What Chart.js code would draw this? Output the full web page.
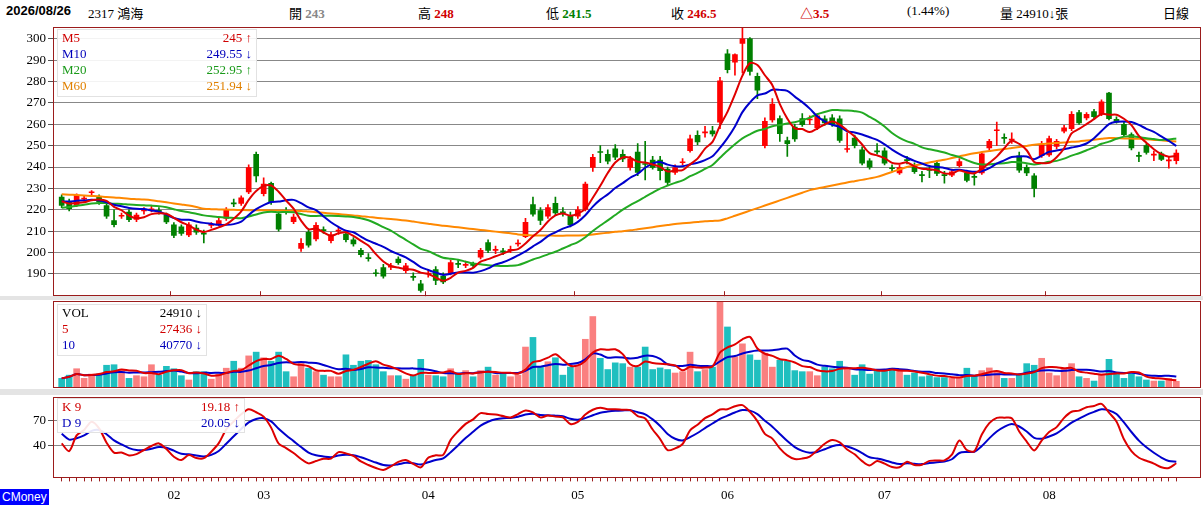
<!DOCTYPE html>
<html><head><meta charset="utf-8">
<script src="https://cdn.jsdelivr.net/npm/chart.js@4/dist/chart.umd.min.js"></script>
<style>
body{margin:0;background:#fff;width:1203px;height:510px;overflow:hidden;position:relative;font-family:"Liberation Serif","Noto Sans CJK TC",serif;font-size:13px}
.a{position:absolute;white-space:nowrap}
canvas{position:absolute;left:0}
.sep{position:absolute;left:0;width:1203px;background:#e4e4e4}
.lg{position:absolute;background:rgba(255,255,255,0.9);border:1px solid #e2e2e2;font-size:13px;line-height:16px;z-index:2}
.lg div{position:relative;height:16px}
.lg span.r{position:absolute;right:4px}
.lg span.l{position:absolute;left:4px}
</style></head><body>
<div class="a" style="left:6px;top:3px;font-family:'Liberation Sans';font-weight:bold">2026/08/26</div>
<div class="a" style="left:88px;top:3px">2317 鴻海</div>
<div class="a" style="left:289px;top:3px">開 <b style="color:#888">243</b></div>
<div class="a" style="left:418px;top:3px">高 <b style="color:#d00000">248</b></div>
<div class="a" style="left:546px;top:3px">低 <b style="color:#008000">241.5</b></div>
<div class="a" style="left:671px;top:3px">收 <b style="color:#d00000">246.5</b></div>
<div class="a" style="left:800px;top:3px;color:#d00000;font-weight:bold">△3.5</div>
<div class="a" style="left:907px;top:3px">(1.44%)</div>
<div class="a" style="left:1000px;top:3px">量 24910↓張</div>
<div class="a" style="left:1163px;top:3px">日線</div>
<div class="sep" style="top:296px;height:4px"></div>
<div class="sep" style="top:389px;height:6px"></div>
<canvas id="c1" width="1203" height="289" style="top:17px"></canvas>
<canvas id="c2" width="1203" height="90" style="top:299px"></canvas>
<canvas id="c3" width="1203" height="122" style="top:387px"></canvas>
<div class="lg" style="left:57px;top:29px;width:198px;height:66px">
<div style="color:#d00000"><span class="l">M5</span><span class="r">245 ↑</span></div>
<div style="color:#0000bb"><span class="l">M10</span><span class="r">249.55 ↓</span></div>
<div style="color:#1a9a1a"><span class="l">M20</span><span class="r">252.95 ↑</span></div>
<div style="color:#e08000"><span class="l">M60</span><span class="r">251.94 ↓</span></div>
</div>
<div class="lg" style="left:57px;top:304px;width:148px;height:50px">
<div style="color:#000"><span class="l">VOL</span><span class="r">24910 ↓</span></div>
<div style="color:#d00000"><span class="l">5</span><span class="r">27436 ↓</span></div>
<div style="color:#0000bb"><span class="l">10</span><span class="r">40770 ↓</span></div>
</div>
<div class="lg" style="left:57px;top:398px;width:186px;height:33px">
<div style="color:#d00000"><span class="l">K 9</span><span class="r">19.18 ↑</span></div>
<div style="color:#0000bb"><span class="l">D 9</span><span class="r">20.05 ↓</span></div>
</div>
<div class="a" style="left:0;top:489px;background:#0000ff;color:#fff;font-family:'Liberation Sans';font-size:12px;padding:0 2px;line-height:16px">CMoney</div>
<script>
const opens=[226,223.7,222,225,228,226,222,215,217,219,215.5,219.5,220,219.6,217.4,213,212,208.3,211.5,208.8,212.7,213.4,216,223,223,228.4,246,227.6,232.4,218,219.5,214.5,202,209.5,206.4,210.5,205.6,210,208.7,206,201,197.4,190.3,193,193.2,197,191.5,188.6,185.4,190,192,188.9,190.2,194.7,194,194.2,197.8,204.7,201,200.5,201,204,207.5,222.5,219.7,217,223,218.8,217,217,220.2,239.8,247,246,248.5,246,239.8,247,241.4,243.3,243.3,239,237.5,242,247.7,254.8,256,257,261,293,289,297.8,300,282.4,250,262,262.7,252.4,258.7,262.7,262,258.4,262.6,263,262.6,248.2,253.6,248,242.9,247.3,247.6,239.4,237.3,243.2,240.2,236.2,238.6,241.8,236.2,236.2,240.7,237.3,235.4,237.3,248.9,257,253.6,252.6,245.3,239.9,235.9,245.3,245.7,249.7,256.8,257.9,265.5,263,265.9,264.7,274.6,262.3,260,255.2,245.2,250,245.6,246.2,242.9,243];
const closes=[222,220.5,226.8,225.3,228,223.7,217,213,217.3,215.4,217.5,219.5,220.3,219.3,214.3,208,209,213,209.5,208.6,212.9,215,220,222.8,225.6,239.8,235.8,232,223.7,211,219.3,216.6,204.3,203.5,212.7,210.3,208.3,210.2,206,204,199,197.2,190.1,189,193.4,195.3,193.8,188.4,182.3,190.2,187,186.3,195.3,194.5,194.2,194,201,201,201.2,200.3,201.2,204.3,214.2,218,215,221,218.6,218.6,213,220,232,244.6,246.8,242.7,244.6,243.8,243.8,237.5,241.2,239.8,238.3,232.8,239.8,242.2,253.2,251.7,256.2,255.5,280.3,285.5,292.6,300,284.7,276,261.4,269.4,255.6,250.9,253.2,259.8,262.2,264,260.7,260,252.5,248.4,250,241.8,240,247.1,241.8,239.2,239.8,243,237.8,236,238.4,237,236,237.8,242.6,233.8,235.2,246.2,252,257.2,253.4,252.8,238.6,237.3,230,250.5,253.3,252,258.4,264.7,260.7,264.7,263.6,270.5,262.6,261,255.2,248.9,245,246.8,245.8,243.6,243.1,246.5];
const highs=[227,225,227.5,226.5,229,227,223,220,218.5,220,218.5,221,222,221,218.5,214,213,214,213,210.5,214,216,221,225,226.5,241,247,235,233,219,221,218,206.5,210.5,214,212,209.5,212,210,207,202,199.5,192,194.5,195,198,195,190.5,187,192,193.5,190.5,196.5,196.5,196,195.5,202,206,203,202,203,206,216,226,221,222.5,226,221,219,221.5,233,246,250,248,250.5,248,245,251,252,245,245,240,241,244,255,257,259,259,282,295,293,305,300.5,284,263,272,264,254,260,265,264,265,264,264.5,264,256,255,249.5,244,251,249,241,241,245,242,238,240,243,238,239,244,238.5,237,247,253,261,255.5,256,247,241,237,252,254.5,253,259.5,266,266.5,265.5,267,271.5,275,263.5,261,256,247,251,247.5,247,245,248];
const lows=[221,219.5,221.5,224,227,222.5,216,212,216,214.5,214.5,218,219,218,213.5,207,208,207.5,208.5,204.5,211.5,212.5,215,221.5,222,227.5,233,226.5,222.5,210,218,213.5,200.5,202.5,205.5,209,204.5,208.5,205,203,198,196,189,188,192,194.5,190.5,187,181.5,188.5,185,185.5,189.5,193,193,193,197,200,199.5,199,200,203,207,217,213,216,217.5,217,212,216,219.5,238,242,241.5,243.5,242.5,238.5,236,234,239,234,231.5,236.5,241,247,250.5,254,254.5,258,284,283,284,283,272,249,261,252,245,252,259,260,257.5,259.5,259,251.5,247,249,241,239,246,241,238,236.5,241.5,237,233,235,236,232.5,235.5,240,233,231.5,236.5,248,250,251,251,237.5,236,226,244.5,245,248.5,256,257,260,262,262.5,264,262,260.5,254.5,248,242.5,246,243,243,239.5,241.5];
const priorCloses=[214,215,216,217,218,218,219,220,221,222,222,223,224,225,226,226,225,224,223];
const ma60=[227.3,227.1,226.9,226.7,226.5,226.3,226,225.8,225.5,225.2,225,224.8,224.5,224,223.5,223,222.5,222,221.3,220.5,220.3,220.2,220.1,220,219.9,219.8,219.8,219.8,219.7,219.7,219.6,219.6,219.5,219.2,218.9,218.6,218.3,218,217.7,217.4,217,216.7,216.3,216,215.7,215.4,215,214.5,214,213.5,213,212.6,212.2,211.8,211.4,211,210.6,210.2,209.8,209.4,209,208.5,208.2,208,208,208,207.9,207.9,208,208,208.1,208.5,208.9,209.3,209.7,210,210.4,210.9,211.4,211.9,212.4,212.9,213.4,213.7,214,214.3,214.6,214.8,215,216,217.2,218.4,219.6,220.8,222,223.2,224.4,225.6,226.8,228,229.2,230,230.7,231.4,232.1,232.8,233.4,234,234.7,235.4,236.5,237.7,238.9,240,240.7,241.4,242.1,242.8,243.4,244.2,245,245.8,246.5,247,247.5,248,248.4,248.9,249.4,249.9,250.4,250.8,251,251.3,251.5,251.8,252,252.4,252.8,253.2,253.6,253.5,253.4,253.3,253.2,253,252.7,252.5,252.2,251.94];
const volumesK=[36,48,72,36,52,52,85,87,68,36,46,42,87,48,81,72,46,30,61,61,33,52,74,100,74,120,134,113,100,134,61,42,95,74,61,48,42,42,124,85,100,103,87,61,46,46,33,48,107,48,46,42,72,52,65,42,65,78,48,52,42,48,153,189,78,98,113,48,78,85,182,267,111,69,94,91,78,78,153,69,75,69,56,61,134,61,69,78,321,228,117,165,124,104,130,78,104,100,65,61,61,46,78,72,100,72,48,87,52,69,65,74,65,48,56,42,46,39,39,36,36,74,46,65,75,59,36,36,48,91,85,111,56,46,72,91,42,36,26,52,107,52,36,52,42,30,26,26,36,24.91];
const monthTicks={15:'02',27:'03',49:'04',69:'05',89:'06',110:'07',132:'08'};
const priceTicks=[190,200,210,220,230,240,250,260,270,280,290,300];
const kdTicks=[40,70];
const kdStart=[55,60];

const N=closes.length;
const idx=closes.map((_,i)=>i);
const XMIN=-1.16, XMAX=N-1+3.3;
const all=priorCloses.concat(closes);
function ma(n){return closes.map((_,i)=>{const j=i+priorCloses.length;const s=all.slice(Math.max(0,j-n+1),j+1);return s.reduce((a,b)=>a+b,0)/s.length;});}
const vols=volumesK.map(v=>v*1000);
function vma(n){return vols.map((_,i)=>{const s=vols.slice(Math.max(0,i-n+1),i+1);return s.reduce((a,b)=>a+b,0)/s.length;});}
const up=closes.map((c,i)=>c>opens[i]||(c===opens[i]&&(i===0||c>=closes[i-1])));
const RED='#ff0000',GRN='#008000';
let K=[],D=[],kp=kdStart[0],dp=kdStart[1];
for(let i=0;i<N;i++){const hh=Math.max(...highs.slice(Math.max(0,i-8),i+1)),ll=Math.min(...lows.slice(Math.max(0,i-8),i+1));const rsv=hh===ll?50:(closes[i]-ll)/(hh-ll)*100;kp=kp*2/3+rsv/3;dp=dp*2/3+kp/3;K.push(kp);D.push(dp);}
const xy=arr=>arr.map((y,i)=>({x:i,y}));

const border={id:'bd',afterDraw(c){const a=c.chartArea,x=c.ctx;x.save();x.strokeStyle='#9b1c1c';x.lineWidth=1;x.strokeRect(Math.round(a.left)+0.5,Math.round(a.top)+0.5,Math.round(a.right-a.left)-1,Math.round(a.bottom-a.top)-1);x.restore();}};
const monthMarks={id:'mm',afterDraw(c){const a=c.chartArea,x=c.ctx,s=c.scales.x;x.save();x.strokeStyle='#9b1c1c';x.lineWidth=1;Object.keys(monthTicks).forEach(k=>{const px=Math.round(s.getPixelForValue(+k)-3.7)+0.5;x.beginPath();x.moveTo(px,a.bottom-5);x.lineTo(px,a.bottom);x.stroke();});x.restore();}};
const fit=s=>{s.width=53;};
const font={family:'Liberation Serif',size:13};
Chart.defaults.animation=false;
Chart.defaults.responsive=false;
Chart.defaults.plugins.legend.display=false;
Chart.defaults.plugins.tooltip.enabled=false;
const line=(d,col)=>({type:'line',data:xy(d),borderColor:col,borderWidth:2,pointRadius:0,tension:0.3,order:0});
const xHidden={type:'linear',display:false,offset:false,min:XMIN,max:XMAX};

new Chart(document.getElementById('c1'),{data:{datasets:[
 line(ma(5),'#e00000'),line(ma(10),'#0000cc'),line(ma(20),'#22aa22'),line(ma60,'#ff8800'),
 {type:'bar',data:idx.map(i=>({x:i,y:[lows[i],highs[i]]})),backgroundColor:idx.map(i=>up[i]?RED:GRN),barThickness:1,grouped:false,order:1},
 {type:'bar',data:idx.map(i=>({x:i,y:[opens[i],closes[i]]})),backgroundColor:idx.map(i=>up[i]?RED:GRN),barThickness:5,minBarLength:1,grouped:false,order:1}
]},
options:{layout:{padding:{top:0,right:2,bottom:0,left:0}},
 scales:{x:xHidden,
  y:{min:179.6,max:305.6,afterFit:fit,afterBuildTicks:s=>{s.ticks=priceTicks.map(v=>({value:v}));},
   ticks:{font,color:'#000',padding:2},border:{display:false},
   grid:{color:'#888',tickColor:'#555',tickLength:5,lineWidth:1,borderDash:[1,2]}}}},
plugins:[border,monthMarks]});

new Chart(document.getElementById('c2'),{data:{datasets:[
 line(vma(5),'#e00000'),line(vma(10),'#0000cc'),
 {type:'bar',data:xy(vols),backgroundColor:idx.map(i=>up[i]?'#fa8080':'#1fbfbf'),barThickness:6,order:1}
]},
options:{layout:{padding:{top:2,right:2,bottom:1,left:0}},
 scales:{x:xHidden,
  y:{min:0,max:325000,afterFit:fit,ticks:{display:false},border:{display:false},grid:{display:false}}}},
plugins:[border]});

new Chart(document.getElementById('c3'),{data:{datasets:[line(K,'#dd0000'),line(D,'#0000cc')]},
options:{layout:{padding:{top:0,right:2,bottom:0,left:0}},
 scales:{x:{type:'linear',offset:false,min:XMIN,max:XMAX,border:{display:false},grid:{drawOnChartArea:false,color:'#9b1c1c',tickLength:4},
   afterBuildTicks:s=>{s.ticks=idx.map(v=>({value:v}));},
   ticks:{autoSkip:false,maxRotation:0,font,color:'#000',padding:6,callback:(v)=>monthTicks[v]||''}},
  y:{min:0,max:100,afterFit:fit,afterBuildTicks:s=>{s.ticks=kdTicks.map(v=>({value:v}));},
   ticks:{font,color:'#000',padding:2},border:{display:false},
   grid:{color:'#888',tickColor:'#555',tickLength:5,borderDash:[1,2]}}}},
plugins:[border]});
</script></body></html>
